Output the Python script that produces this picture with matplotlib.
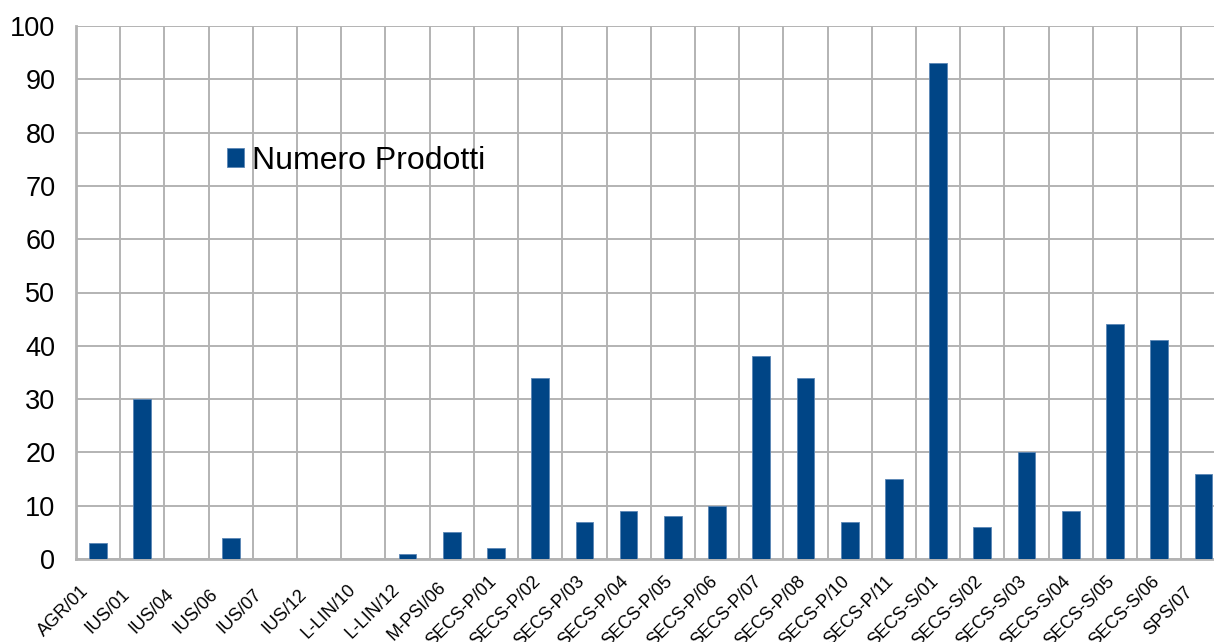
import matplotlib
matplotlib.use('Agg')
import matplotlib.pyplot as plt
import matplotlib.transforms as mtransforms
import numpy as np

plt.rcParams.update({
    'font.family': ['Liberation Sans', 'DejaVu Sans'],
    'figure.dpi': 100,
})

categories = ['AGR/01', 'IUS/01', 'IUS/04', 'IUS/06', 'IUS/07', 'IUS/12',
              'L-LIN/10', 'L-LIN/12', 'M-PSI/06', 'SECS-P/01', 'SECS-P/02',
              'SECS-P/03', 'SECS-P/04', 'SECS-P/05', 'SECS-P/06', 'SECS-P/07',
              'SECS-P/08', 'SECS-P/10', 'SECS-P/11', 'SECS-S/01', 'SECS-S/02',
              'SECS-S/03', 'SECS-S/04', 'SECS-S/05', 'SECS-S/06', 'SPS/07']
prodotti = [3, 30, 0, 4, 0, 0, 0, 1, 5, 2, 34, 7, 9, 8, 10, 38, 34, 7, 15,
            93, 6, 20, 9, 44, 41, 16]

GRID = '#b3b3b3'
BLUE = '#004586'

fig = plt.figure(figsize=(12.14, 6.42))
# axes runs a little past the right edge, as in the original
ax = fig.add_axes([76 / 1214, 1 - 559 / 642, (1225.5 - 76) / 1214, (559 - 26) / 642])

x = np.arange(len(categories))
ax.bar(x, prodotti, width=0.4, color=BLUE, edgecolor='#5a86b5', linewidth=0.6,
       label='Numero Prodotti', zorder=3)

ax.set_xlim(-0.5, len(categories) - 0.5)
ax.set_ylim(0, 100)
ax.set_yticks(np.arange(0, 101, 10))
ax.tick_params(axis='y', length=0, pad=14.8, labelsize=19.5)

ax.set_xticks(x)
ax.set_xticks(np.arange(-0.5, len(categories), 1), minor=True)
ax.tick_params(axis='x', which='both', length=0, pad=0)
ax.set_xticklabels(categories, rotation=45, ha='center', va='center',
                   rotation_mode='anchor', fontsize=13)
# labels are centred a bit left of and below each category
offset = mtransforms.ScaledTranslation(-35 / 100, -52 / 100, fig.dpi_scale_trans)
for lbl in ax.get_xticklabels():
    lbl.set_transform(lbl.get_transform() + offset)

ax.grid(axis='y', which='major', color=GRID, linewidth=1.4, zorder=0)
ax.grid(axis='x', which='minor', color=GRID, linewidth=1.4, zorder=0)
ax.grid(axis='x', which='major', visible=False)

for side in ['top', 'right']:
    ax.spines[side].set_visible(False)
for side in ['left', 'bottom']:
    ax.spines[side].set_color(GRID)
    ax.spines[side].set_linewidth(2)

ax.legend(loc='center left', bbox_to_anchor=((227 - 76) / 1149.5, (559 - 161) / 533),
          frameon=False, borderpad=0, borderaxespad=0,
          fontsize=23, handlelength=0.53, handleheight=0.53, handletextpad=0.25)

fig.savefig('out.png', dpi=100)
